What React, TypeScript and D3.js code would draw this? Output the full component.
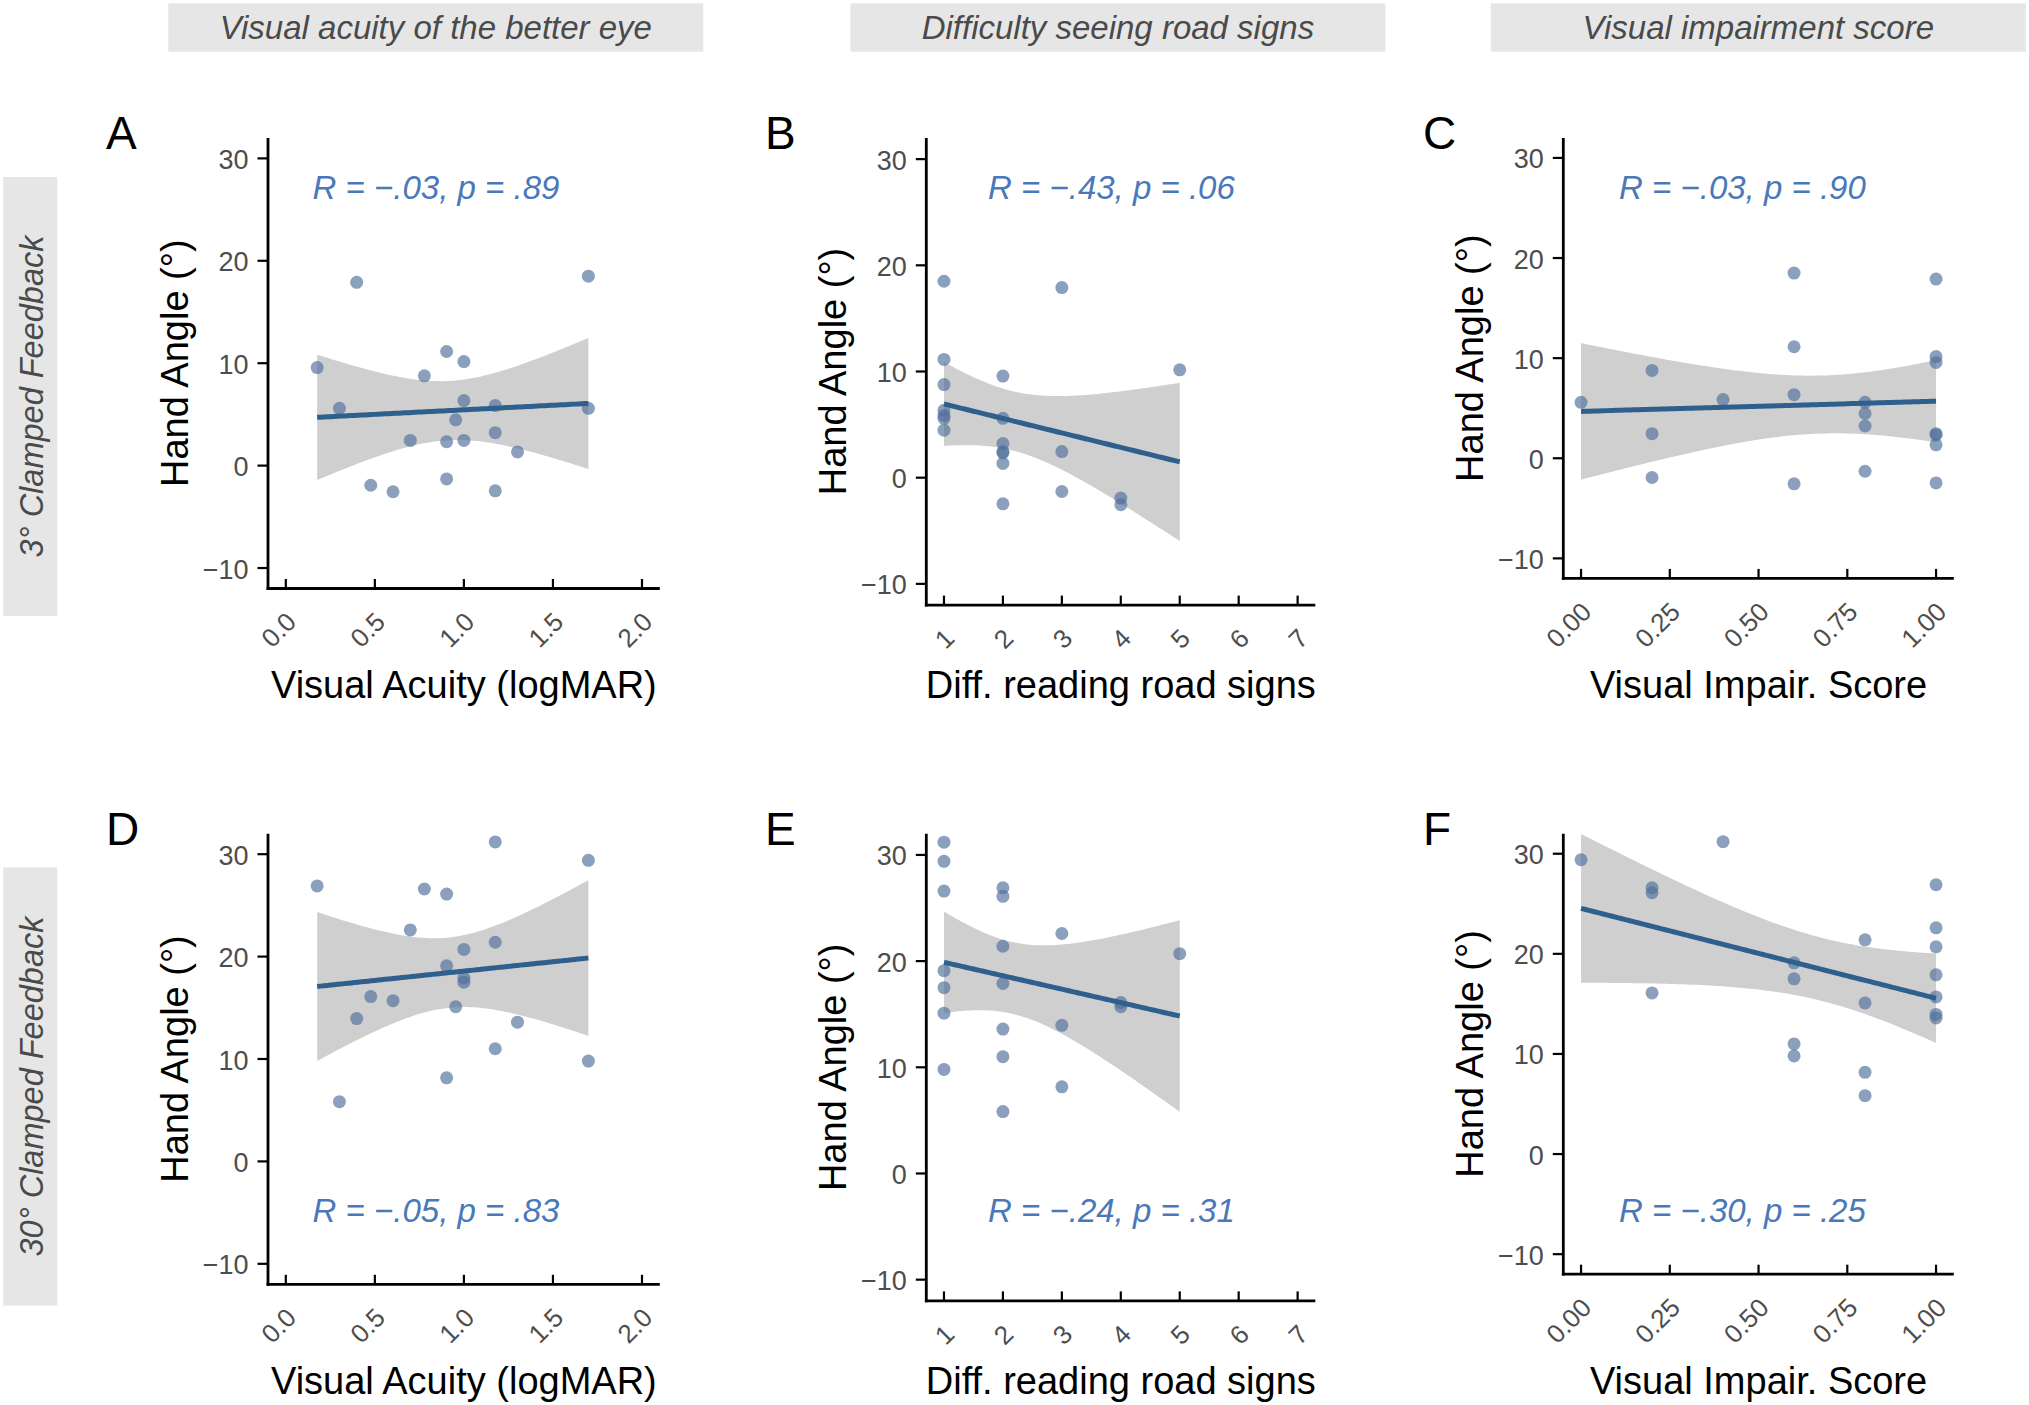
import React from 'react';
import * as d3 from 'd3';

const W = 2029;
const H = 1405;

// ---------- tick values ----------
const acuityTicks = [0, 0.5, 1.0, 1.5, 2.0];
const acuityTickLabels = ['0.0', '0.5', '1.0', '1.5', '2.0'];
const roadTicks = [1, 2, 3, 4, 5, 6, 7];
const roadTickLabels = ['1', '2', '3', '4', '5', '6', '7'];
const impairTicks = [0, 0.25, 0.5, 0.75, 1.0];
const impairTickLabels = ['0.00', '0.25', '0.50', '0.75', '1.00'];
const angleTicks = [-10, 0, 10, 20, 30];

// ---------- 3° clamped feedback ----------
const acuity3X = [0.176, 0.301, 0.398, 0.477, 0.602, 0.699, 0.778, 0.903, 0.903, 0.903, 0.954, 1.0, 1.0, 1.0, 1.176, 1.176, 1.176, 1.301, 1.699, 1.699];
const acuity3Y = [9.57, 5.59, 17.9, -1.92, -2.55, 2.46, 8.77, 11.14, 2.33, -1.3, 4.47, 10.16, 6.35, 2.46, 5.86, 3.22, -2.46, 1.34, 18.5, 5.59];

const road3X = [1, 1, 1, 1, 1, 1, 1, 2, 2, 2, 2, 2, 2, 2, 3, 3, 3, 4, 4, 5];
const road3Y = [18.5, 11.14, 8.77, 6.35, 5.86, 5.59, 4.47, 9.57, 5.59, 3.22, 2.46, 2.33, 1.34, -2.46, 17.9, 2.46, -1.3, -1.92, -2.55, 10.16];

const impair3X = [0, 0.2, 0.2, 0.2, 0.4, 0.6, 0.6, 0.6, 0.6, 0.8, 0.8, 0.8, 0.8, 1, 1, 1, 1, 1, 1, 1];
const impair3Y = [5.59, 8.77, 2.46, -1.92, 5.86, 18.5, 11.14, 6.35, -2.55, 5.59, 4.47, 3.22, -1.3, 17.9, 10.16, 9.57, 2.46, 2.33, 1.34, -2.46];

// ---------- 30° clamped feedback ----------
const acuity30X = [0.176, 0.301, 0.398, 0.477, 0.602, 0.699, 0.778, 0.903, 0.903, 0.903, 0.954, 1.0, 1.0, 1.0, 1.176, 1.176, 1.176, 1.301, 1.699, 1.699];
const acuity30Y = [26.9, 5.83, 13.95, 16.1, 15.7, 22.6, 26.6, 26.1, 19.1, 8.16, 15.1, 20.7, 17.9, 17.5, 31.2, 21.4, 11.0, 13.6, 29.4, 9.8];

const road30X = [1, 1, 1, 1, 1, 1, 1, 2, 2, 2, 2, 2, 2, 2, 3, 3, 3, 4, 4, 5];
const road30Y = [31.2, 29.4, 26.6, 19.1, 17.5, 15.1, 9.8, 26.9, 26.1, 21.4, 17.9, 13.6, 11.0, 5.83, 22.6, 13.95, 8.16, 16.1, 15.7, 20.7];

const impair30X = [0, 0.2, 0.2, 0.2, 0.4, 0.6, 0.6, 0.6, 0.6, 0.8, 0.8, 0.8, 0.8, 1, 1, 1, 1, 1, 1, 1];
const impair30Y = [29.4, 26.6, 26.1, 16.1, 31.2, 19.1, 17.5, 11.0, 9.8, 21.4, 15.1, 8.16, 5.83, 26.9, 22.6, 20.7, 17.9, 15.7, 13.95, 13.6];

// ---------- text ----------
const columnHeaders = ['Visual acuity of the better eye', 'Difficulty seeing road signs', 'Visual impairment score'];
const rowLabels = ['3° Clamped Feedback', '30° Clamped Feedback'];
const panelLetters = ['A', 'B', 'C', 'D', 'E', 'F'];
const xTitles = ['Visual Acuity (logMAR)', 'Diff. reading road signs', 'Visual Impair. Score'];
const yTitle = 'Hand Angle (°)';
const statLabels = [
  'R = −.03, p = .89',
  'R = −.43, p = .06',
  'R = −.03, p = .90',
  'R = −.05, p = .83',
  'R = −.24, p = .31',
  'R = −.30, p = .25',
];

const T_975_DF18 = 2.100922;

const FONT = "'Liberation Sans', Arial, Helvetica, sans-serif";
const DOT = '#4f6f9a';
const LINE = '#2f5f8c';
const BAND = '#cfcfcf';
const STAT = '#4a78b8';
const TICKTXT = '#4d4d4d';
const BOX = '#e6e6e7';

// ---------- layout ----------
const ROW_DY = 695.8;
const colLayout = [
  { left: 268, right: 659.8, bottom: 588.5, letterX: 106, statX: 312.6, domain: [-0.1, 2.1], ticks: acuityTicks, tickLabels: acuityTickLabels, headerX: 168.3 },
  { left: 926.3, right: 1315.3, bottom: 605.1, letterX: 765, statX: 988, domain: [0.7, 7.3], ticks: roadTicks, tickLabels: roadTickLabels, headerX: 850.4 },
  { left: 1563.3, right: 1953.8, bottom: 578.4, letterX: 1423, statX: 1619, domain: [-0.05, 1.05], ticks: impairTicks, tickLabels: impairTickLabels, headerX: 1490.8 },
];
const rowTop = [137.9, 137.9 + ROW_DY];
const statBaseline = [198.6, 1222.3];
const letterBaseline = [149, 845];
const xTitleBaseline = [698, 1394];
const rowBoxes = [
  { y: 177, h: 439 },
  { y: 867.5, h: 438 },
];

const panelData = [
  [acuity3X, acuity3Y],
  [road3X, road3Y],
  [impair3X, impair3Y],
  [acuity30X, acuity30Y],
  [road30X, road30Y],
  [impair30X, impair30Y],
];

function fitLm(xs: number[], ys: number[]) {
  const n = xs.length;
  const mx = d3.mean(xs) as number;
  const my = d3.mean(ys) as number;
  let sxx = 0;
  let sxy = 0;
  xs.forEach((x, i) => {
    sxx += (x - mx) * (x - mx);
    sxy += (x - mx) * (ys[i] - my);
  });
  const b = sxy / sxx;
  const a = my - b * mx;
  let sse = 0;
  xs.forEach((x, i) => {
    const r = ys[i] - (a + b * x);
    sse += r * r;
  });
  const s = Math.sqrt(sse / (n - 2));
  const [x0, x1] = d3.extent(xs) as [number, number];
  return d3.range(81).map((i) => {
    const x = x0 + ((x1 - x0) * i) / 80;
    const yh = a + b * x;
    const se = s * Math.sqrt(1 / n + ((x - mx) * (x - mx)) / sxx);
    return { x, y: yh, lo: yh - T_975_DF18 * se, hi: yh + T_975_DF18 * se };
  });
}

function Panel({ idx }: { idx: number }) {
  const row = Math.floor(idx / 3);
  const col = idx % 3;
  const L = colLayout[col];
  const top = rowTop[row];
  const bottom = L.bottom + row * ROW_DY;
  const xs = panelData[idx][0];
  const ys = panelData[idx][1];

  const x = d3.scaleLinear().domain(L.domain).range([L.left, L.right]);
  const y = d3.scaleLinear().domain([-12, 32]).range([bottom, top]);

  const fit = fitLm(xs, ys);
  const area = d3
    .area<{ x: number; lo: number; hi: number }>()
    .x((d) => x(d.x))
    .y0((d) => y(d.lo))
    .y1((d) => y(d.hi));
  const line = d3
    .line<{ x: number; y: number }>()
    .x((d) => x(d.x))
    .y((d) => y(d.y));

  return (
    <g>
      <text x={L.letterX} y={letterBaseline[row]} fontSize={46} fill="#000" fontFamily={FONT}>
        {panelLetters[idx]}
      </text>
      <path d={area(fit) || ''} fill={BAND} />
      {xs.map((xv, i) => (
        <circle key={i} cx={x(xv)} cy={y(ys[i])} r={6.5} fill={DOT} fillOpacity={0.66} />
      ))}
      <path d={line(fit) || ''} fill="none" stroke={LINE} strokeWidth={5} />
      {/* axes */}
      <line x1={L.left} x2={L.left} y1={top} y2={bottom + 1.4} stroke="#000" strokeWidth={2.8} />
      <line x1={L.left - 1.4} x2={L.right} y1={bottom} y2={bottom} stroke="#000" strokeWidth={2.8} />
      {angleTicks.map((t) => (
        <g key={'y' + t}>
          <line x1={L.left - 10.5} x2={L.left} y1={y(t)} y2={y(t)} stroke="#000" strokeWidth={2.2} />
          <text x={L.left - 19.5} y={y(t) + 10.5} fontSize={27} textAnchor="end" fill={TICKTXT} fontFamily={FONT}>
            {t < 0 ? '−' + Math.abs(t) : String(t)}
          </text>
        </g>
      ))}
      {L.ticks.map((t, i) => (
        <g key={'x' + t}>
          <line x1={x(t)} x2={x(t)} y1={bottom - 9.5} y2={bottom} stroke="#000" strokeWidth={2.2} />
          <text
            transform={`translate(${x(t) + 12},${bottom + 35}) rotate(-45)`}
            fontSize={26}
            textAnchor="end"
            fill={TICKTXT}
            fontFamily={FONT}
          >
            {L.tickLabels[i]}
          </text>
        </g>
      ))}
      <text
        x={(L.left + L.right) / 2}
        y={xTitleBaseline[row]}
        fontSize={38}
        textAnchor="middle"
        fill="#000"
        fontFamily={FONT}
      >
        {xTitles[col]}
      </text>
      <text
        transform={`translate(${L.left - 80},${(top + bottom) / 2}) rotate(-90)`}
        fontSize={38}
        textAnchor="middle"
        fill="#000"
        fontFamily={FONT}
      >
        {yTitle}
      </text>
      <text x={L.statX} y={statBaseline[row]} fontSize={33} fontStyle="italic" fill={STAT} fontFamily={FONT}>
        {statLabels[idx]}
      </text>
    </g>
  );
}

export default function App() {
  return (
    <svg
      width={W}
      height={H}
      viewBox={`0 0 ${W} ${H}`}
      style={{ position: 'absolute', left: 0, top: 0, background: '#fff' }}
    >
      <rect x={0} y={0} width={W} height={H} fill="#fff" />
      {columnHeaders.map((h, i) => (
        <g key={h}>
          <rect x={colLayout[i].headerX} y={3.3} width={535} height={48.4} fill={BOX} />
          <text
            x={colLayout[i].headerX + 267.5}
            y={39}
            fontSize={33}
            fontStyle="italic"
            textAnchor="middle"
            fill="#4a4a4a"
            fontFamily={FONT}
          >
            {h}
          </text>
        </g>
      ))}
      {rowLabels.map((r, i) => (
        <g key={r}>
          <rect x={3.3} y={rowBoxes[i].y} width={54} height={rowBoxes[i].h} fill={BOX} />
          <text
            transform={`translate(43,${rowBoxes[i].y + rowBoxes[i].h / 2}) rotate(-90)`}
            fontSize={32.5}
            fontStyle="italic"
            textAnchor="middle"
            fill="#4a4a4a"
            fontFamily={FONT}
          >
            {r}
          </text>
        </g>
      ))}
      {panelLetters.map((_, i) => (
        <Panel key={i} idx={i} />
      ))}
    </svg>
  );
}
